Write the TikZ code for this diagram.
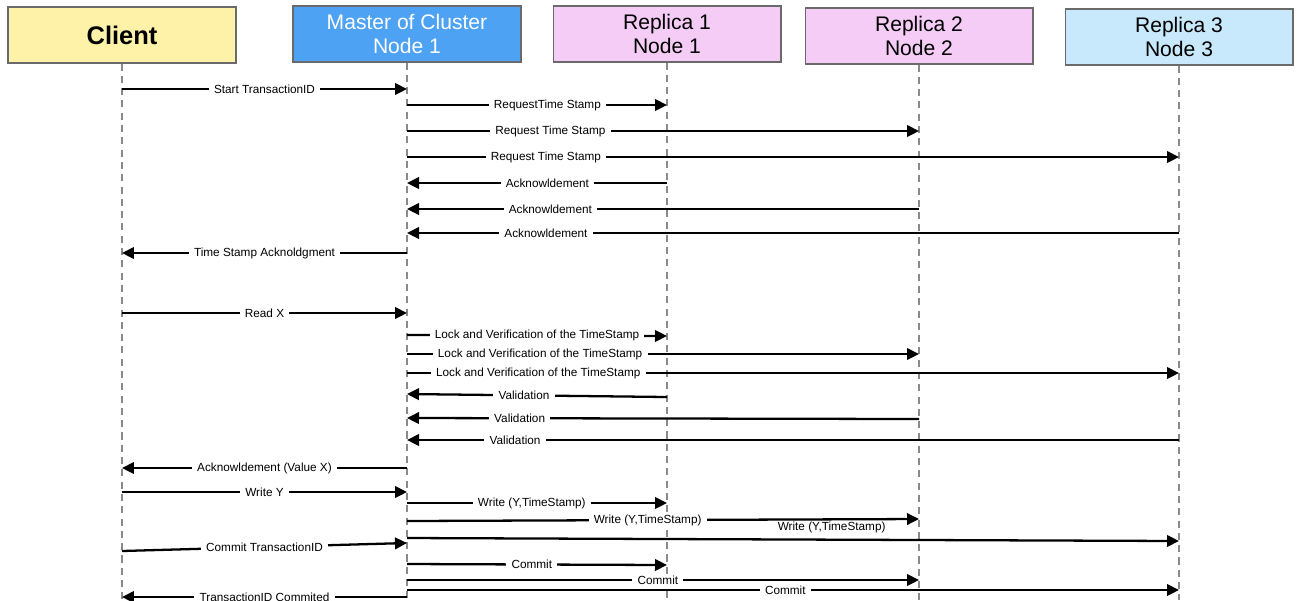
\documentclass[tikz,border=0pt]{standalone}
\usepackage{fontspec}
\setmainfont{Liberation Sans}
\usetikzlibrary{arrows.meta, positioning, calc}
\definecolor{clientbg} {HTML}{FDF2A7}
\definecolor{masterbg} {HTML}{4DA2F3}
\definecolor{replicabg}{HTML}{F4CCF6}
\definecolor{lastbg}   {HTML}{C8E8FB}
\definecolor{edge}     {HTML}{6A6A6A}
\definecolor{lifegray} {HTML}{8A8A8A}

\begin{document}
\begin{tikzpicture}[x=0.02cm, y=-0.02cm,
    head/.style={draw=edge, line width=0.6pt, minimum width=4.56cm,
                 minimum height=1.12cm, align=center, inner sep=1pt,
                 font=\fontsize{12}{14}\selectfont},
    life/.style={draw=lifegray, line width=0.6pt, dash pattern=on 4pt off 3pt},
    msg/.style={-{Triangle[length=2.4mm, width=2.3mm]}, line width=1.3pt},
    lbl/.style={fill=white, inner xsep=3pt, inner ysep=1pt,
                font=\fontsize{6.7}{8}\selectfont}
  ]
    \useasboundingbox (0,0) rectangle (1301,600);

    % heads
    \node[head, fill=clientbg, font=\fontsize{14.5}{16}\selectfont\bfseries] (cl) at (122,35) {Client};
    \node[head, fill=masterbg, text=white] (ms) at (407,34) {Master of Cluster\\ Node 1};
    \node[head, fill=replicabg] (r1) at (667,34) {Replica 1\\ Node 1};
    \node[head, fill=replicabg] (r2) at (919,36) {Replica 2\\ Node 2};
    \node[head, fill=lastbg]    (r3) at (1179,37) {Replica 3\\ Node 3};

    % lifelines
    \foreach \n in {cl, ms, r1, r2, r3} {
      \coordinate (\n-end) at (\n.south |- 0,600);
      \draw[life] (\n.south) -- (\n-end);
    }

    % timestamp phase
    \draw[msg] (cl |- 0,89)  -- node[lbl] {Start TransactionID} (ms |- 0,89);
    \draw[msg] (ms |- 0,105) -- node[lbl, pos=0.54] {RequestTime Stamp} (r1 |- 0,105);
    \draw[msg] (ms |- 0,131) -- node[lbl, pos=0.28] {Request Time Stamp} (r2 |- 0,131);
    \draw[msg] (ms |- 0,157) -- node[lbl, pos=0.18] {Request Time Stamp} (r3 |- 0,157);
    \draw[msg] (r1 |- 0,183) -- node[lbl, pos=0.46] {Acknowldement} (ms |- 0,183);
    \draw[msg] (r2 |- 0,209) -- node[lbl, pos=0.72] {Acknowldement} (ms |- 0,209);
    \draw[msg] (r3 |- 0,233) -- node[lbl, pos=0.82] {Acknowldement} (ms |- 0,233);
    \draw[msg] (ms |- 0,253) -- node[lbl] {Time Stamp Acknoldgment} (cl |- 0,253);

    % read
    \draw[msg] (cl |- 0,313) -- node[lbl] {Read X} (ms |- 0,313);
    \draw[msg] (ms |- 0,335) -- node[lbl, pos=0.5]  {Lock and Verification of the TimeStamp} (r1 |- 0,336);
    \draw[msg] (ms |- 0,354) -- node[lbl, pos=0.26] {Lock and Verification of the TimeStamp} (r2 |- 0,354);
    \draw[msg] (ms |- 0,373) -- node[lbl, pos=0.17] {Lock and Verification of the TimeStamp} (r3 |- 0,373);
    \draw[msg] (r1 |- 0,397) -- node[lbl, pos=0.55] {Validation} (ms |- 0,394);
    \draw[msg] (r2 |- 0,419) -- node[lbl, pos=0.78] {Validation} (ms |- 0,418);
    \draw[msg] (r3 |- 0,440) -- node[lbl, pos=0.86] {Validation} (ms |- 0,440);
    \draw[msg] (ms |- 0,468) -- node[lbl] {Acknowldement (Value X)} (cl |- 0,468);

    % write and commit
    \draw[msg] (cl |- 0,492) -- node[lbl] {Write Y} (ms |- 0,492);
    \draw[msg] (ms |- 0,503) -- node[lbl, pos=0.48] {Write (Y,TimeStamp)} (r1 |- 0,503);
    \draw[msg] (ms |- 0,521) -- node[lbl, pos=0.47] {Write (Y,TimeStamp)} (r2 |- 0,519);
    \draw[msg] (ms |- 0,538) -- node[lbl, fill=none, above=2pt, pos=0.55] {Write (Y,TimeStamp)} (r3 |- 0,541);
    \draw[msg] (cl |- 0,551) -- node[lbl] {Commit TransactionID} (ms |- 0,543);
    \draw[msg] (ms |- 0,564) -- node[lbl, pos=0.48] {Commit} (r1 |- 0,565);
    \draw[msg] (ms |- 0,580) -- node[lbl, pos=0.49] {Commit} (r2 |- 0,580);
    \draw[msg] (ms |- 0,590) -- node[lbl, pos=0.49] {Commit} (r3 |- 0,590);
    \draw[msg] (ms |- 0,597) -- node[lbl] {TransactionID Commited} (cl |- 0,597);
\end{tikzpicture}
\end{document}
